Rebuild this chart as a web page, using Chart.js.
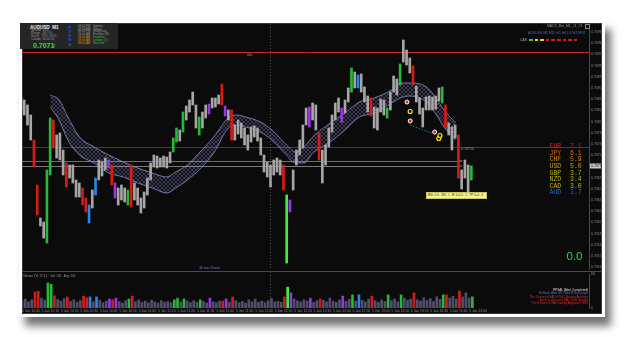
<!DOCTYPE html>
<html>
<head>
<meta charset="utf-8">
<title>AUDUSD M1</title>
<script src="https://cdn.jsdelivr.net/npm/chart.js@4.4.1/dist/chart.umd.min.js"></script>
<style>
  html, body { margin: 0; padding: 0; background: #fff; }
  body { width: 625px; height: 337px; position: relative; overflow: hidden; font-family: Arial, "Liberation Sans", sans-serif; }
  #paper { position: absolute; left: 19px; top: 20px; width: 586px; height: 297px; background: #fff; box-shadow: 6px 9px 8px rgba(0,0,0,0.55); }
  #screen { position: absolute; left: 22px; top: 23px; width: 580px; height: 291px; background: #0b0b0b; overflow: hidden; box-shadow: inset 0 0 0 1px #3a3a3a; }
  #screen canvas { position: absolute; left: 0; display: block; }
  #priceChart { top: 1px; }
  #sep { position: absolute; left: 0; top: 248px; width: 580px; height: 1px; background: #4a4a4a; }
  #volChart { top: 249px; }
  .t { position: absolute; white-space: nowrap; line-height: 1; }
  #info { position: absolute; left: 20px; top: 23px; width: 98px; height: 26px; background: #252525; }
  .mono { font-family: "Liberation Mono", "DejaVu Sans Mono", monospace; font-size: 6.5px; }
</style>
</head>
<body>
<div id="paper"></div>
<div id="screen">
  <canvas id="priceChart" width="579" height="246"></canvas>
  <div id="sep"></div>
  <canvas id="volChart" width="579" height="42"></canvas>
</div>

<!-- terminal panels drawn on top of the chart -->
<div id="info"></div>
<div class="t" style="left:30px;top:24.6px;font:bold 4.6px Arial;color:#eee">AUDUSD&nbsp;&nbsp;M1</div>
<div class="t" style="left:31px;top:29.2px;font:3.1px Arial;line-height:3.1px;color:#9a9a9a">Spread&nbsp;&nbsp;0.80<br>Range&nbsp;&nbsp;&nbsp;36 / 65<br>Stoch&nbsp;&nbsp;&nbsp;75% / 81%<br>Candle&nbsp;&nbsp;00:00:00</div>
<div class="t" style="left:33px;top:41.6px;font:bold 7px Arial;color:#33d633">0.7071</div>
<div class="t" style="left:53px;top:44.2px;font:3.6px Arial;color:#bbb">2</div>
<div class="t" style="left:68.5px;top:25.6px;font:bold 3.8px Arial;line-height:4.3px;color:#3452e0;text-align:center">P<br>V<br>S<br>R<br>A</div>
<div class="t" style="left:78px;top:24.8px;font:2.9px Arial;line-height:2.8px;color:#9a9a9a">04:00 PM<br>07:00 PM<br>09:00 PM<br>01:00 AM<br><span style="color:#e08a1a">04:00 AM</span><br><span style="color:#e08a1a">03:00 AM</span><br><span style="color:#e08a1a">08:00 AM</span></div>
<div class="t" style="left:93px;top:24.8px;font:2.9px Arial;line-height:2.8px;color:#9a9a9a">Sydney<br>Tokyo<br>HongKong<br>Frankfurt (8)<br><span style="color:#3ec23e">Frankfurt</span><br><span style="color:#3ec23e">London (O)</span><br><span style="color:#3ec23e">NewYork</span></div>

<div class="t" style="left:547px;top:24.2px;font:3.4px Arial;color:#9a9a9a">MACD_Bar_M1_#1_#3</div>
<div style="position:absolute;left:585px;top:24.4px;width:2.5px;height:2.5px;border:0.6px solid #888"></div>
<div class="t" style="left:528px;top:30.6px;font:3.4px Arial;color:#4a6ab8">AUDUSD M5 M15 H1 H4 D1 W1 MN1</div>
<div class="t" style="left:520px;top:37.7px;font:3.4px Arial;color:#aaa">CAS</div>
<div id="casRow"></div>

<div id="strengthTable"></div>
<div class="t" style="left:566.5px;top:250.2px;font:11.5px Arial;color:#33d633">0.0</div>

<div class="t" style="left:426px;top:192px;width:58px;height:5px;background:#f4f48a;border:0.5px solid #c8c860;font:2.8px Arial;line-height:5px;color:#222;padding-left:1px">BSL: 0.9 - SSL: 1 - R: 0+0.0 - 1 - TP: 0+4 - 6</div>
<div class="t" style="left:247px;top:53.2px;font:3.4px Arial;color:#9a9a9a">40L</div>
<div class="t" style="left:199px;top:266.3px;font:3.5px Arial;color:#7a7ad0">30 min Trend</div>
<div class="t" style="left:23px;top:273.6px;font:3px Arial;color:#9a9a9a">Volume TVI 1T 3.1 &middot; Vol: 126 &middot; Avg: 105</div>
<div class="t" style="right:37px;top:289px;font:3.1px Arial;line-height:3.3px;text-align:right;color:#e02828">
  <span style="color:#ddd">PPSAL (Alert Completed)</span><br>
  <span style="color:#4a7ae0">M Stoch Alert M5 Gold M Exchange</span><br>
  The 0 interval SAD FTMC Moving Average<br>
  there is data unit SAD Total Spread<br>
  The 8 Stoch &amp; MA Trading Approach M15
</div>

<script>
// AUDUSD M1 bars, one value per bar (high / low)
const priceHigh = [
  0.70856, 0.70850, 0.70840, 0.70820, 0.70770, 0.70680, 0.70614, 0.70606, 0.70710, 0.70814,
  0.70810, 0.70780, 0.70784, 0.70750, 0.70724, 0.70720, 0.70720, 0.70690, 0.70684, 0.70674,
  0.70654, 0.70640, 0.70670, 0.70694, 0.70730, 0.70726, 0.70734, 0.70730, 0.70720, 0.70684,
  0.70674, 0.70680, 0.70674, 0.70670, 0.70720, 0.70684, 0.70674, 0.70654, 0.70666, 0.70694,
  0.70724, 0.70740, 0.70738, 0.70734, 0.70738, 0.70736, 0.70746, 0.70774, 0.70794, 0.70790,
  0.70826, 0.70838, 0.70850, 0.70866, 0.70840, 0.70816, 0.70826, 0.70840, 0.70842, 0.70854,
  0.70854, 0.70860, 0.70882, 0.70838, 0.70830, 0.70830, 0.70800, 0.70810, 0.70804, 0.70794,
  0.70780, 0.70796, 0.70798, 0.70794, 0.70774, 0.70740, 0.70726, 0.70720, 0.70730, 0.70734,
  0.70730, 0.70720, 0.70660, 0.70650, 0.70710, 0.70750, 0.70770, 0.70800, 0.70834, 0.70836,
  0.70844, 0.70840, 0.70784, 0.70750, 0.70760, 0.70794, 0.70820, 0.70844, 0.70854, 0.70834,
  0.70850, 0.70874, 0.70914, 0.70906, 0.70900, 0.70902, 0.70876, 0.70858, 0.70854, 0.70836,
  0.70834, 0.70852, 0.70850, 0.70834, 0.70866, 0.70898, 0.70892, 0.70922, 0.70970, 0.70950,
  0.70934, 0.70918, 0.70878, 0.70854, 0.70834, 0.70856, 0.70858, 0.70856, 0.70858, 0.70874,
  0.70876, 0.70840, 0.70804, 0.70796, 0.70800, 0.70780, 0.70710, 0.70730, 0.70720, 0.70718
];
const priceLow = [
  0.70830, 0.70820, 0.70800, 0.70770, 0.70716, 0.70620, 0.70598, 0.70574, 0.70564, 0.70700,
  0.70754, 0.70734, 0.70730, 0.70700, 0.70676, 0.70694, 0.70684, 0.70656, 0.70656, 0.70640,
  0.70626, 0.70604, 0.70634, 0.70660, 0.70690, 0.70698, 0.70710, 0.70714, 0.70680, 0.70654,
  0.70640, 0.70650, 0.70646, 0.70640, 0.70636, 0.70650, 0.70640, 0.70624, 0.70634, 0.70660,
  0.70690, 0.70716, 0.70714, 0.70716, 0.70716, 0.70714, 0.70724, 0.70746, 0.70766, 0.70768,
  0.70786, 0.70810, 0.70826, 0.70840, 0.70794, 0.70780, 0.70794, 0.70814, 0.70822, 0.70834,
  0.70836, 0.70842, 0.70840, 0.70818, 0.70810, 0.70770, 0.70770, 0.70782, 0.70774, 0.70760,
  0.70750, 0.70766, 0.70776, 0.70768, 0.70740, 0.70706, 0.70696, 0.70676, 0.70700, 0.70706,
  0.70700, 0.70670, 0.70524, 0.70626, 0.70670, 0.70720, 0.70740, 0.70754, 0.70800, 0.70796,
  0.70810, 0.70790, 0.70730, 0.70684, 0.70720, 0.70756, 0.70786, 0.70810, 0.70826, 0.70806,
  0.70824, 0.70846, 0.70866, 0.70874, 0.70874, 0.70866, 0.70846, 0.70826, 0.70818, 0.70794,
  0.70790, 0.70826, 0.70820, 0.70814, 0.70830, 0.70866, 0.70860, 0.70880, 0.70926, 0.70920,
  0.70904, 0.70880, 0.70846, 0.70822, 0.70796, 0.70830, 0.70830, 0.70830, 0.70832, 0.70848,
  0.70844, 0.70796, 0.70780, 0.70750, 0.70774, 0.70694, 0.70672, 0.70694, 0.70666, 0.70690
];
const volumes = [
  18, 22, 15, 20, 39, 41, 24, 19, 61, 58,
  30, 21, 17, 23, 27, 16, 20, 14, 18, 29,
  25, 27, 15, 27, 19, 13, 17, 22, 20, 24,
  16, 12, 18, 22, 29, 15, 20, 14, 17, 13,
  19, 15, 12, 18, 14, 16, 13, 20, 24, 15,
  22, 17, 13, 18, 14, 20, 16, 12, 24, 15,
  13, 17, 17, 22, 14, 27, 18, 13, 16, 12,
  20, 15, 22, 14, 17, 13, 18, 24, 15, 16,
  14, 27, 51, 37, 22, 18, 15, 20, 17, 24,
  14, 18, 22, 19, 15, 24, 17, 14, 20, 29,
  16, 21, 32, 17, 32, 19, 15, 22, 29, 18,
  14, 20, 16, 32, 18, 22, 15, 32, 24, 19,
  22, 37, 20, 17, 25, 19, 23, 16, 27, 21,
  32, 32, 24, 29, 22, 41, 27, 37, 24, 27
];

// signal colouring of bars (bar indices)
const redBars = [4, 5, 10, 14, 19, 20, 28, 34, 62, 65, 81, 92, 108, 121, 131, 135];
const greenBars = [8, 9, 33, 47, 48, 50, 55, 82, 102, 113, 117, 130, 139];
const purpleBars = [27, 29, 58, 63, 83, 89, 99];
const blueBars = [21, 23, 104];

// moving-average ribbon edges, read at a few bars
const bandIdx = [0, 3, 6, 10, 15, 20, 25, 30, 35, 40, 43, 47, 51, 56, 61, 64, 67, 72, 76, 81, 84, 87, 90, 96, 101, 106, 111, 117, 120, 123, 129, 132, 135, 139];
const bandUpper = [0.70860, 0.70850, 0.70816, 0.70776, 0.70756, 0.70740, 0.70726, 0.70714, 0.70704, 0.70696, 0.70706, 0.70720, 0.70744, 0.70776, 0.70814, 0.70820, 0.70816, 0.70806, 0.70790, 0.70760, 0.70746, 0.70756, 0.70776, 0.70804, 0.70824, 0.70846, 0.70854, 0.70870, 0.70884, 0.70884, 0.70876, 0.70856, 0.70830, 0.70804];
const bandLower = [0.70836, 0.70810, 0.70770, 0.70740, 0.70724, 0.70704, 0.70696, 0.70684, 0.70674, 0.70664, 0.70674, 0.70690, 0.70710, 0.70744, 0.70794, 0.70800, 0.70796, 0.70786, 0.70770, 0.70740, 0.70724, 0.70724, 0.70744, 0.70766, 0.70790, 0.70816, 0.70824, 0.70844, 0.70854, 0.70858, 0.70846, 0.70824, 0.70796, 0.70770];

// signal markers
const whiteIdx = [122.3, 123.4, 131.8];
const whitePrice = [0.70846, 0.70808, 0.70786];
const yellowIdx = [123.4, 133.2, 133.6];
const yellowPrice = [0.70827, 0.70773, 0.70779];
const trailIdx = [123.4, 131.1];
const trailPrice = [0.70800, 0.70783];

// horizontal levels
const redLevel = 0.70945;
const supportLevel = 0.70756;
const entryLevels = [0.70728, 0.70718];
const lastPrice = 0.70718;
const separatorIdx = 76.5;

const priceTicks = [0.70985, 0.70963, 0.70941, 0.70918, 0.70896, 0.70873, 0.70851, 0.70829, 0.70806, 0.70784, 0.70762,
  0.70739, 0.70717, 0.70694, 0.70672, 0.70650, 0.70627, 0.70605, 0.70582, 0.70560, 0.70538, 0.70515];
const timeLabels = ["5 Jan 10:00", "5 Jan 10:10", "5 Jan 10:20", "5 Jan 10:30", "5 Jan 10:40", "5 Jan 10:50",
  "5 Jan 11:00", "5 Jan 11:10", "5 Jan 11:20", "5 Jan 11:30", "5 Jan 11:40", "5 Jan 11:50",
  "5 Jan 12:00", "5 Jan 12:10", "5 Jan 12:20", "5 Jan 12:30", "5 Jan 12:40", "5 Jan 12:50",
  "5 Jan 13:00", "5 Jan 13:10", "5 Jan 13:20", "5 Jan 13:30", "5 Jan 13:40", "5 Jan 13:50"];
const volMax = 83;

const currencies = ["EUR", "JPY", "CHF", "USD", "GBP", "NZD", "CAD", "AUD"];
const strength = [7.1, 6.1, 5.9, 5.0, 3.7, 3.4, 3.0, 1.7];
const casStates = ["up", "mid", "mid", "down", "down", "down", "down", "down", "down"];

// ---- layout helpers ----
const slotCount = 176; // bars + chart shift space on the right
const slotLabels = [];
for (let i = 0; i < slotCount; i++) {
  slotLabels.push(i % 6 === 0 && timeLabels[i / 6] ? timeLabels[i / 6] : "");
}

function signalColor(i, base) {
  if (redBars.includes(i)) return "#d81a1a";
  if (greenBars.includes(i)) return i === 82 ? "#3cf03c" : "#27b83a";
  if (purpleBars.includes(i)) return "#9b35e8";
  if (blueBars.includes(i)) return "#2a86e8";
  return base;
}

const priceRanges = priceHigh.map((h, i) => [priceLow[i], h]);
const barColors = priceHigh.map((_, i) => signalColor(i, "#a6a6a6"));
const volColors = volumes.map((_, i) => signalColor(i, "#4f4f6c"));
const toPts = (xs, ys) => xs.map((x, i) => ({ x: x, y: ys[i] }));

function makeHatch(ctx) {
  const c = document.createElement("canvas");
  c.width = 4;
  c.height = 4;
  const g = c.getContext("2d");
  g.strokeStyle = "rgba(155,155,230,0.6)";
  g.lineWidth = 0.6;
  g.beginPath();
  g.moveTo(0, 4); g.lineTo(4, 0);
  g.moveTo(0, 0); g.lineTo(4, 4);
  g.stroke();
  return ctx.createPattern(c, "repeat");
}

// dotted day separator, both panes
const separatorPlugin = {
  id: "separator",
  beforeDatasetsDraw(chart) {
    const { ctx, chartArea: a, scales } = chart;
    const sx = Math.round(scales.x.getPixelForValue(separatorIdx)) + 0.5;
    ctx.save();
    ctx.strokeStyle = "#555";
    ctx.lineWidth = 1;
    ctx.setLineDash([1, 2]);
    ctx.beginPath();
    ctx.moveTo(sx, 0);
    ctx.lineTo(sx, a.bottom);
    ctx.stroke();
    ctx.restore();
  }
};

const levelsPlugin = {
  id: "levels",
  beforeDatasetsDraw(chart) {
    const { ctx, chartArea: a, scales: { y, xb } } = chart;
    const hline = (v, x0, x1, color) => {
      const py = Math.round(y.getPixelForValue(v)) + 0.5;
      ctx.strokeStyle = color;
      ctx.beginPath();
      ctx.moveTo(x0, py);
      ctx.lineTo(x1, py);
      ctx.stroke();
    };
    ctx.save();
    ctx.lineWidth = 1;
    hline(redLevel, a.left, a.right, "#c42a2a");
    hline(supportLevel, a.left, a.right, "#4d3d34");
    const endX = xb.getPixelForValue(140.5);
    hline(entryLevels[0], a.left, endX, "#707070");
    hline(entryLevels[1], a.left, endX, "#7a7a7a");
    ctx.restore();
  },
  afterDraw(chart) {
    const { ctx, chartArea: a, scales: { y, xb } } = chart;
    ctx.save();
    // level label
    ctx.font = "3.5px Arial";
    ctx.fillStyle = "#9a9a9a";
    ctx.textBaseline = "top";
    ctx.fillText(supportLevel.toFixed(5), xb.getPixelForValue(140.5) + 1, y.getPixelForValue(supportLevel) + 0.5);
    // end ticks of the entry lines
    const ex = xb.getPixelForValue(140.5);
    ctx.fillStyle = "#bbb";
    ctx.fillRect(ex, y.getPixelForValue(entryLevels[0]) - 0.5, 2, 1);
    ctx.fillStyle = "#3cd03c";
    ctx.fillRect(ex, y.getPixelForValue(entryLevels[1]) - 0.5, 2, 1);
    // bid label on the price axis
    const py = y.getPixelForValue(lastPrice);
    ctx.fillStyle = "#c8c8c8";
    ctx.fillRect(a.right + 1, py - 2.5, chart.width - a.right - 1, 5);
    ctx.fillStyle = "#111";
    ctx.textBaseline = "middle";
    ctx.fillText(lastPrice.toFixed(5), a.right + 2, py);
    ctx.restore();
  }
};

const priceCtx = document.getElementById("priceChart").getContext("2d");
const hatch = makeHatch(priceCtx);

const priceChart = new Chart(priceCtx, {
  type: "bar",
  data: {
    labels: slotLabels,
    datasets: [
      { type: "bar", data: priceRanges, backgroundColor: barColors, barThickness: 2, borderWidth: 0, order: 1 },
      { type: "line", xAxisID: "xb", data: toPts(bandIdx, bandUpper), borderColor: "rgba(150,150,225,0.95)",
        borderWidth: 0.8, pointRadius: 0, cubicInterpolationMode: "monotone", order: 5 },
      { type: "line", xAxisID: "xb", data: toPts(bandIdx, bandLower), borderColor: "rgba(150,150,225,0.95)",
        borderWidth: 0.8, pointRadius: 0, cubicInterpolationMode: "monotone", fill: "-1", backgroundColor: hatch, order: 4 },
      { type: "line", xAxisID: "xb", data: toPts(trailIdx, trailPrice), borderColor: "#2a92bc",
        borderWidth: 0.8, borderDash: [1.5, 1.5], pointRadius: 0, order: 0 },
      { type: "line", xAxisID: "xb", data: toPts(whiteIdx, whitePrice), showLine: false, pointRadius: 2,
        pointBackgroundColor: "#e02020", pointBorderColor: "#ffffff", pointBorderWidth: 1, order: 0 },
      { type: "line", xAxisID: "xb", data: toPts(yellowIdx, yellowPrice), showLine: false, pointRadius: 2,
        pointBackgroundColor: "#111", pointBorderColor: "#ffe800", pointBorderWidth: 1.2, order: 0 }
    ]
  },
  options: {
    responsive: false,
    animation: false,
    devicePixelRatio: 1,
    layout: { padding: 0, autoPadding: false },
    plugins: { legend: { display: false }, tooltip: { enabled: false } },
    scales: {
      x: { type: "category", offset: false, display: false },
      xb: { type: "linear", min: 0, max: slotCount - 1, display: false },
      y: {
        position: "right",
        min: 0.70510,
        max: 0.71002,
        grid: { display: false, drawTicks: false },
        border: { display: true, color: "#4a4a4a" },
        ticks: { color: "#8e8e8e", font: { size: 3.5, family: "Arial" }, padding: 2, callback: (v) => v.toFixed(5) },
        afterBuildTicks: (s) => { s.ticks = priceTicks.map((v) => ({ value: v })); },
        afterFit: (s) => { s.width = 12; s.paddingTop = 0; s.paddingBottom = 0; }
      }
    }
  },
  plugins: [levelsPlugin, separatorPlugin]
});

const volChart = new Chart(document.getElementById("volChart"), {
  type: "bar",
  data: {
    labels: slotLabels,
    datasets: [{ data: volumes, backgroundColor: volColors, barThickness: 2, borderWidth: 0 }]
  },
  options: {
    responsive: false,
    animation: false,
    devicePixelRatio: 1,
    layout: { padding: { top: 2, left: 0, right: 0, bottom: 0 }, autoPadding: false },
    plugins: { legend: { display: false }, tooltip: { enabled: false } },
    scales: {
      x: {
        offset: false,
        grid: { display: false, drawTicks: false },
        border: { display: false },
        ticks: { autoSkip: false, maxRotation: 0, minRotation: 0, align: "start", padding: 1,
                 color: "#8e8e8e", font: { size: 3.4, family: "Arial" } },
        afterFit: (s) => { s.height = 6; s.paddingLeft = 0; s.paddingRight = 0; }
      },
      y: {
        position: "right",
        min: 0,
        max: volMax,
        grid: { display: false, drawTicks: false },
        border: { display: true, color: "#4a4a4a" },
        ticks: { color: "#8e8e8e", font: { size: 3.4, family: "Arial" }, padding: 2 },
        afterBuildTicks: (s) => { s.ticks = [{ value: 0 }, { value: volMax }]; },
        afterFit: (s) => { s.width = 12; s.paddingTop = 0; s.paddingBottom = 0; }
      }
    }
  },
  plugins: [separatorPlugin]
});

// currency strength table
const strengthColors = ["#d41c1c", "#d86a10", "#d48a14", "#c9a414", "#b5b018", "#b8b41c", "#c2b41c", "#2c6cd4"];
const table = document.getElementById("strengthTable");
currencies.forEach((c, i) => {
  const top = 144.2 + i * 6.6;
  table.insertAdjacentHTML("beforeend",
    `<div class="t mono" style="left:549.5px;top:${top}px;color:${strengthColors[i]}">${c}</div>` +
    `<div class="t mono" style="left:570px;top:${top}px;color:${strengthColors[i]}">${strength[i].toFixed(1)}</div>`);
});

// CAS state squares
const casColors = { up: "#2fd02f", mid: "#e0d21a", down: "#d81a1a" };
const cas = document.getElementById("casRow");
casStates.forEach((s, i) => {
  cas.insertAdjacentHTML("beforeend",
    `<div style="position:absolute;left:${529 + i * 5.6}px;top:38.6px;width:3.6px;height:2px;background:${casColors[s]}"></div>`);
});
</script>
</body>
</html>
